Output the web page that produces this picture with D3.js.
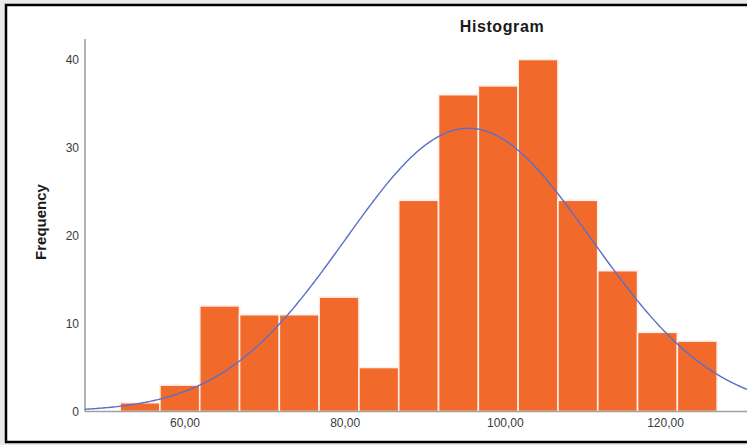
<!DOCTYPE html>
<html>
<head>
<meta charset="utf-8">
<script src="https://cdn.jsdelivr.net/npm/d3@7"></script>
<style>
	html, body { margin: 0; padding: 0; background: #e9e9e9; }
	svg { display: block; }
</style>
</head>
<body>
<div id="chart"></div>
<script>
"use strict";

// Histogram bins (lower edge of the first bin and bin width)
const binStart = 51.9;
const binWidth = 4.97;
const counts = [1, 3, 12, 11, 11, 13, 5, 24, 36, 37, 40, 24, 16, 9, 8];

// Fitted normal curve
const curveMean = 95.4;
const curveSd = 15.4;

const yTicks = [0, 10, 20, 30, 40];
const xTicks = [60, 80, 100, 120];

const width = 747;
const height = 445;

const svg = d3.select("#chart")
	.append("svg")
	.attr("width", width)
	.attr("height", height);

// white panel with black frame (right edge is cut off)
svg.append("rect")
	.attr("x", 6)
	.attr("y", 5)
	.attr("width", width + 10)
	.attr("height", 437)
	.style("fill", "#fff")
	.style("stroke", "#000")
	.style("stroke-width", 2.5);

const x = d3.scaleLinear()
	.domain([60, 120])
	.range([185, 665.5]);

const y = d3.scaleLinear()
	.domain([0, 40])
	.range([411.5, 59.5]);

const xMin = x.invert(85);
const xMax = x.invert(width);

const bins = counts.map((c, i) => ({
	x0: binStart + i * binWidth,
	x1: binStart + (i + 1) * binWidth,
	count: c
}));

// bars
svg.append("g")
	.selectAll("rect")
	.data(bins)
	.enter()
	.append("rect")
	.attr("x", d => x(d.x0))
	.attr("y", d => y(d.count))
	.attr("width", d => x(d.x1) - x(d.x0))
	.attr("height", d => y(0) - y(d.count))
	.style("fill", "#f26a2b")
	.style("stroke", "#fdf0ea")
	.style("stroke-width", 1.6);

// axes lines
svg.append("line")
	.attr("x1", 85).attr("x2", 85)
	.attr("y1", 39).attr("y2", y(0))
	.style("stroke", "#8a8a8a")
	.style("stroke-width", 1.3);

svg.append("line")
	.attr("x1", 85).attr("x2", width)
	.attr("y1", y(0)).attr("y2", y(0))
	.style("stroke", "#a0a0a0")
	.style("stroke-width", 1.3);

// normal curve, scaled to counts
const total = d3.sum(counts);
const curveScale = total * binWidth / (curveSd * Math.sqrt(2 * Math.PI));
const curvePts = d3.range(xMin, xMax + 0.25, 0.25).map(v => {
	const z = (v - curveMean) / curveSd;
	return [v, curveScale * Math.exp(-0.5 * z * z)];
});

svg.append("path")
	.datum(curvePts)
	.attr("d", d3.line().x(d => x(d[0])).y(d => y(d[1])))
	.style("fill", "none")
	.style("stroke", "#5a6fc6")
	.style("stroke-width", 1.4);

// tick labels
svg.append("g")
	.selectAll("text")
	.data(yTicks)
	.enter()
	.append("text")
	.attr("x", 79)
	.attr("y", d => y(d))
	.attr("dy", "0.35em")
	.attr("text-anchor", "end")
	.style("font-family", "Liberation Sans, Arial, sans-serif")
	.style("font-size", "12px")
	.style("fill", "#3a3a3a")
	.text(d => d);

const fmt = d => d3.format(".2f")(d).replace(".", ",");

svg.append("g")
	.selectAll("text")
	.data(xTicks)
	.enter()
	.append("text")
	.attr("x", d => x(d))
	.attr("y", 423)
	.attr("dy", "0.35em")
	.attr("text-anchor", "middle")
	.style("font-family", "Liberation Sans, Arial, sans-serif")
	.style("font-size", "12px")
	.style("fill", "#3a3a3a")
	.text(fmt);

// title and axis label
svg.append("text")
	.attr("x", 502)
	.attr("y", 32)
	.attr("text-anchor", "middle")
	.style("font-family", "Liberation Sans, Arial, sans-serif")
	.style("font-size", "16px")
	.style("font-weight", "bold")
	.style("letter-spacing", "0.6px")
	.style("fill", "#1a1a1a")
	.text("Histogram");

svg.append("text")
	.attr("transform", "translate(46,222) rotate(-90)")
	.attr("text-anchor", "middle")
	.style("font-family", "Liberation Sans, Arial, sans-serif")
	.style("font-size", "15px")
	.style("font-weight", "bold")
	.style("fill", "#1a1a1a")
	.text("Frequency");
</script>
</body>
</html>
